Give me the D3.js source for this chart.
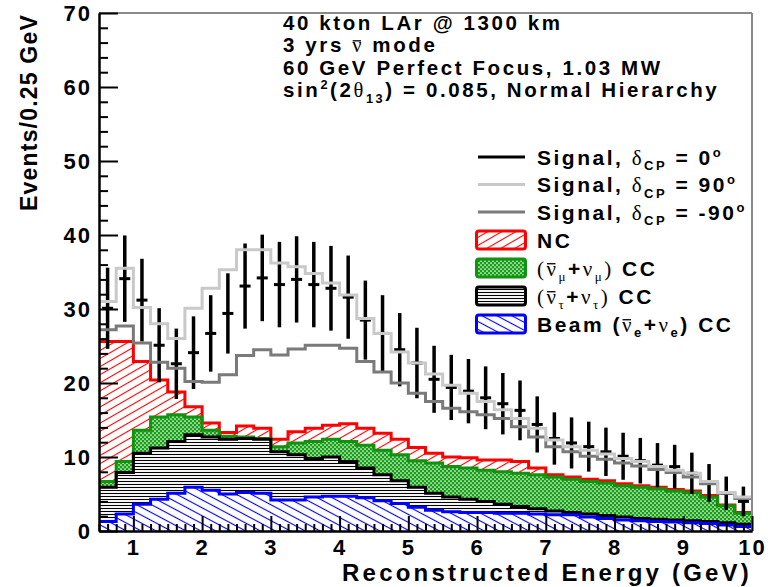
<!DOCTYPE html>
<html>
<head>
<meta charset="utf-8">
<script src="https://cdn.jsdelivr.net/npm/d3@7"></script>
<style>
  body { margin: 0; background: #fff; }
  svg { display: block; }
  text { font-family: "Liberation Sans", Arial, Helvetica, sans-serif; font-weight: bold; fill: #000; }
  .greek { font-family: "Liberation Serif", "Times New Roman", serif; font-weight: normal; }
</style>
</head>
<body>
<svg id="chart" width="774" height="587"></svg>
<script>
// Reconstructed-energy bins (lower edges, GeV), 0.25 GeV wide
const binLow = [0.5, 0.75, 1.0, 1.25, 1.5, 1.75, 2.0, 2.25, 2.5, 2.75,
                3.0, 3.25, 3.5, 3.75, 4.0, 4.25, 4.5, 4.75, 5.0, 5.25,
                5.5, 5.75, 6.0, 6.25, 6.5, 6.75, 7.0, 7.25, 7.5, 7.75,
                8.0, 8.25, 8.5, 8.75, 9.0, 9.25, 9.5, 9.75];
const binWidth = 0.25;

// Background components (events per bin), stacked bottom to top
const beamNue = [1.3, 2.3, 3.6, 4.3, 5.1, 5.9, 5.5, 5.0, 5.2, 5.1,
                 4.2, 4.2, 4.6, 4.7, 4.7, 4.5, 4.1, 3.7, 3.2, 2.8,
                 2.6, 2.5, 2.5, 2.4, 2.4, 2.3, 2.2, 2.2, 1.9, 1.7,
                 1.5, 1.4, 1.3, 1.2, 1.1, 1.0, 0.8, 0.6];
const nutauCC = [4.6, 5.6, 6.9, 6.9, 7.0, 7.1, 7.2, 7.4, 7.3, 7.3,
                 6.5, 6.1, 5.2, 5.3, 4.7, 4.0, 3.5, 3.1, 2.7, 2.3,
                 2.0, 1.8, 1.5, 1.2, 0.9, 0.7, 0.5, 0.3, 0.4, 0.4,
                 0.4, 0.3, 0.3, 0.3, 0.3, 0.3, 0.3, 0.3];
const numuCC  = [0.8, 1.5, 3.1, 4.2, 3.6, 2.4, 0.9, 0.4, 0.2, 0.1,
                 0.7, 1.6, 2.3, 2.4, 2.7, 3.1, 3.3, 3.5, 3.6, 4.1,
                 4.1, 4.2, 4.2, 4.4, 4.5, 4.6, 4.6, 4.5, 4.4, 4.4,
                 4.2, 4.2, 4.1, 3.9, 3.8, 3.3, 2.3, 1.5];
const ncBkg   = [18.9, 16.2, 9.3, 5.0, 3.1, 1.4, 1.0, 0.5, 1.5, 1.4,
                 1.0, 1.5, 1.8, 1.9, 2.4, 2.3, 2.3, 2.1, 1.8, 1.3,
                 1.3, 1.4, 1.4, 1.6, 1.6, 0.9, 0.3, 0.3, 0.3, 0.3,
                 0.3, 0.2, 0.2, 0.2, 0.2, 0.2, 0.1, 0.1];

// Signal + background totals for three values of delta_CP
const sigDcp0   = [30.1, 34.1, 31.2, 25.1, 22.6, 24.1, 26.7, 29.4, 33.1, 34.2,
                   33.3, 34.0, 33.3, 32.8, 31.6, 28.5, 26.7, 24.5, 22.7, 20.5,
                   19.4, 18.9, 18.0, 17.2, 16.3, 14.4, 12.5, 11.9, 11.4, 10.7,
                   10.1, 9.5, 8.9, 8.7, 7.8, 6.5, 5.1, 4.0];
const sigDcp90  = [31.0, 35.5, 30.2, 28.0, 26.0, 30.1, 32.8, 35.3, 38.0, 38.0,
                   36.2, 35.7, 34.8, 33.5, 31.9, 28.7, 26.7, 24.2, 22.7, 21.2,
                   19.7, 18.6, 17.5, 16.4, 15.2, 13.9, 12.3, 11.4, 10.9, 10.4,
                   9.8, 9.4, 8.7, 8.2, 7.8, 6.7, 5.2, 4.6];
const sigDcpM90 = [27.2, 27.7, 25.4, 22.8, 22.0, 20.2, 20.1, 21.1, 23.7, 24.5,
                   23.8, 24.6, 25.1, 25.1, 24.7, 22.9, 21.5, 20.0, 18.6, 17.5,
                   16.6, 16.1, 15.7, 15.2, 14.1, 12.7, 11.4, 10.7, 10.1, 9.7,
                   9.2, 8.8, 8.3, 7.9, 7.3, 6.4, 5.1, 4.4];

// Axis ticks
const xMajorTicks = [1, 2, 3, 4, 5, 6, 7, 8, 9, 10];
const yMajorTicks = [0, 10, 20, 30, 40, 50, 60, 70];

const svg = d3.select("#chart");
const plot = { left: 99, right: 752, top: 13, bottom: 531 };

const x = d3.scaleLinear().domain([0.5, 10]).range([plot.left, plot.right]);
const y = d3.scaleLinear().domain([0, 70]).range([plot.bottom, plot.top]);

// ---------- fill patterns ----------
const defs = svg.append("defs");

function linePattern(id, color, spacing, angle, width) {
  const p = defs.append("pattern").attr("id", id)
    .attr("patternUnits", "userSpaceOnUse")
    .attr("width", 20).attr("height", spacing)
    .attr("patternTransform", `rotate(${angle})`);
  p.append("line").attr("x1", 0).attr("x2", 20)
    .attr("y1", spacing / 2).attr("y2", spacing / 2)
    .attr("stroke", color).attr("stroke-width", width);
}
linePattern("hatchNC", "#ff0000", 7, -30, 1.1);
linePattern("hatchBeam", "#0000ff", 7, 28, 1.1);
linePattern("hatchTau", "#000000", 3, 0, 1.1);

const dots = defs.append("pattern").attr("id", "dotsNumu")
  .attr("patternUnits", "userSpaceOnUse").attr("width", 4).attr("height", 4);
dots.append("rect").attr("width", 4).attr("height", 4).attr("fill", "#16a016");
dots.append("circle").attr("cx", 1).attr("cy", 1).attr("r", 0.85).attr("fill", "#fff");
dots.append("circle").attr("cx", 3).attr("cy", 3).attr("r", 0.85).attr("fill", "#fff");

defs.append("clipPath").attr("id", "plotClip").append("rect")
  .attr("x", plot.left).attr("y", plot.top)
  .attr("width", plot.right - plot.left).attr("height", plot.bottom - plot.top);

// ---------- stacked backgrounds ----------
const rows = binLow.map((lo, i) => ({
  lo, beam: beamNue[i], tau: nutauCC[i], numu: numuCC[i], nc: ncBkg[i]
}));
const layerKeys = ["beam", "tau", "numu", "nc"];
const layerStyle = {
  beam: { fill: "url(#hatchBeam)", stroke: "#0000ff" },
  tau:  { fill: "url(#hatchTau)",  stroke: "#000000" },
  numu: { fill: "url(#dotsNumu)",  stroke: "#109410" },
  nc:   { fill: "url(#hatchNC)",   stroke: "#ff0000" }
};
const stacked = d3.stack().keys(layerKeys)(rows);

// step points: one per bin lower edge plus the closing upper edge
function stepPoints(vals) {
  const pts = binLow.map((lo, i) => [lo, vals[i]]);
  pts.push([binLow[binLow.length - 1] + binWidth, vals[vals.length - 1]]);
  return pts;
}

const g = svg.append("g").attr("clip-path", "url(#plotClip)");

const area = d3.area().curve(d3.curveStepAfter)
  .x(d => x(d[0])).y0(d => y(d[1])).y1(d => y(d[2]));
const stepLine = d3.line().curve(d3.curveStepAfter)
  .x(d => x(d[0])).y(d => y(d[1]));

stacked.forEach(layer => {
  const pts = layer.map((d, i) => [binLow[i], d[0], d[1]]);
  pts.push([binLow[binLow.length - 1] + binWidth, layer[layer.length - 1][0], layer[layer.length - 1][1]]);
  g.append("path").attr("d", area(pts))
    .attr("fill", layerStyle[layer.key].fill).attr("stroke", "none");
});

// outlines: tallest drawn first so the lower ones stay on top
stacked.slice().reverse().forEach(layer => {
  const tops = layer.map(d => d[1]);
  g.append("path").attr("d", stepLine(stepPoints(tops)))
    .attr("fill", "none").attr("stroke", layerStyle[layer.key].stroke)
    .attr("stroke-width", 3).attr("stroke-linejoin", "miter");
});

// ---------- delta_CP = 0 points with Poisson errors ----------
const pts0 = g.append("g");
sigDcp0.forEach((v, i) => {
  const cx = x(binLow[i] + binWidth / 2);
  const err = Math.sqrt(v);
  pts0.append("line").attr("x1", cx).attr("x2", cx)
    .attr("y1", y(v - err)).attr("y2", y(v + err))
    .attr("stroke", "#000").attr("stroke-width", 3.5);
  pts0.append("line").attr("x1", cx - 5.5).attr("x2", cx + 5.5)
    .attr("y1", y(v)).attr("y2", y(v))
    .attr("stroke", "#000").attr("stroke-width", 3);
});

// ---------- delta_CP = -90 and +90 curves ----------
g.append("path").attr("d", stepLine(stepPoints(sigDcpM90)))
  .attr("fill", "none").attr("stroke", "#7a7a7a").attr("stroke-width", 3);
g.append("path").attr("d", stepLine(stepPoints(sigDcp90)))
  .attr("fill", "none").attr("stroke", "#c9c9c9").attr("stroke-width", 3);

// ---------- frame and axes ----------
svg.append("line").attr("x1", plot.left).attr("x2", plot.right)
  .attr("y1", plot.top).attr("y2", plot.top)
  .attr("stroke", "#8a8a8a").attr("stroke-width", 2);
svg.append("line").attr("x1", plot.right).attr("x2", plot.right)
  .attr("y1", plot.top).attr("y2", plot.bottom)
  .attr("stroke", "#8a8a8a").attr("stroke-width", 2);

const yMinor = d3.range(0, 70.01, 2).filter(v => v % 10 !== 0);
const xMinor = d3.range(0.5, 10.01, 0.125).filter(v => Math.abs(v - Math.round(v)) > 1e-6);

const yAxisMinor = svg.append("g").attr("transform", `translate(${plot.left},0)`)
  .call(d3.axisLeft(y).tickValues(yMinor).tickSizeInner(-9).tickSizeOuter(0).tickFormat(""));
const yAxis = svg.append("g").attr("transform", `translate(${plot.left},0)`)
  .call(d3.axisLeft(y).tickValues(yMajorTicks).tickSizeInner(-19).tickSizeOuter(0).tickPadding(7));

const xAxisMinor = svg.append("g").attr("transform", `translate(0,${plot.bottom})`)
  .call(d3.axisBottom(x).tickValues(xMinor).tickSizeInner(-7).tickSizeOuter(0).tickFormat(""));
const xAxis = svg.append("g").attr("transform", `translate(0,${plot.bottom})`)
  .call(d3.axisBottom(x).tickValues(xMajorTicks).tickSizeInner(-15).tickSizeOuter(0).tickPadding(8));

[yAxisMinor, yAxis, xAxisMinor, xAxis].forEach(a => {
  a.selectAll(".domain").attr("stroke", "#000").attr("stroke-width", 2);
  a.selectAll(".tick line").attr("stroke", "#000").attr("stroke-width", 2);
});
yAxis.selectAll(".tick text").attr("font-size", 22).attr("font-family", null)
  .attr("letter-spacing", 2);
xAxis.selectAll(".tick text").attr("font-size", 22).attr("font-family", null)
  .attr("letter-spacing", 2);

// axis titles
svg.append("text").attr("x", plot.right).attr("y", 581)
  .attr("text-anchor", "end").attr("font-size", 24).attr("letter-spacing", 3.2)
  .text("Reconstructed Energy (GeV)");
svg.append("text").attr("transform", "translate(37,14) rotate(-90)")
  .attr("text-anchor", "end").attr("font-size", 23).attr("letter-spacing", 1.2)
  .text("Events/0.25 GeV");

// ---------- rich text helper (greek, sub/superscripts, antineutrino bar) ----------
function richText(parent, xPos, yPos, parts, size, spacing) {
  const t = parent.append("text").attr("x", xPos).attr("y", yPos)
    .attr("font-size", size).attr("letter-spacing", spacing);
  let shift = 0;
  let charIndex = 0;
  const barChars = [];
  parts.forEach(p => {
    const target = p.sub ? size * 0.28 : p.sup ? -size * 0.38 : 0;
    const ts = t.append("tspan").text(p.t).attr("dy", target - shift);
    shift = target;
    if (p.sub || p.sup) ts.attr("font-size", size * 0.62);
    if (p.greek) ts.attr("class", "greek");
    if (p.bar) barChars.push(charIndex);
    charIndex += p.t.length;
  });
  // bar over the antineutrino symbol, just above its x-height
  barChars.forEach(idx => {
    const ext = t.node().getExtentOfChar(idx);
    const pos = t.node().getStartPositionOfChar(idx);
    const glyphW = ext.width - spacing;
    parent.append("line")
      .attr("x1", ext.x + 0.5).attr("x2", ext.x + glyphW - 0.5)
      .attr("y1", pos.y - size * 0.56).attr("y2", pos.y - size * 0.56)
      .attr("stroke", "#000").attr("stroke-width", 1.3);
  });
  return t;
}

// ---------- run description ----------
const infoLines = [
  [{ t: "40 kton LAr @ 1300 km" }],
  [{ t: "3 yrs " }, { t: "ν", greek: true, bar: true }, { t: " mode" }],
  [{ t: "60 GeV Perfect Focus, 1.03 MW" }],
  [{ t: "sin" }, { t: "2", sup: true }, { t: "(2" }, { t: "θ", greek: true },
   { t: "13", sub: true }, { t: ") = 0.085, Normal Hierarchy" }]
];
infoLines.forEach((parts, i) => richText(svg, 283, 30 + i * 22.3, parts, 20.5, 2.6));

// ---------- legend ----------
const legendRows = [157, 184.5, 212, 240, 268, 296, 324];
const legendEntries = [
  { kind: "line", color: "#000000",
    parts: [{ t: "Signal, " }, { t: "δ", greek: true }, { t: "CP", sub: true }, { t: " = 0" }, { t: "o", sup: true }] },
  { kind: "line", color: "#c9c9c9",
    parts: [{ t: "Signal, " }, { t: "δ", greek: true }, { t: "CP", sub: true }, { t: " = 90" }, { t: "o", sup: true }] },
  { kind: "line", color: "#7a7a7a",
    parts: [{ t: "Signal, " }, { t: "δ", greek: true }, { t: "CP", sub: true }, { t: " = -90" }, { t: "o", sup: true }] },
  { kind: "box", key: "nc", parts: [{ t: "NC" }] },
  { kind: "box", key: "numu",
    parts: [{ t: "(", greek: true }, { t: "ν", greek: true, bar: true }, { t: "μ", greek: true, sub: true },
            { t: "+" }, { t: "ν", greek: true }, { t: "μ", greek: true, sub: true }, { t: ")", greek: true }, { t: " CC" }] },
  { kind: "box", key: "tau",
    parts: [{ t: "(", greek: true }, { t: "ν", greek: true, bar: true }, { t: "τ", greek: true, sub: true },
            { t: "+" }, { t: "ν", greek: true }, { t: "τ", greek: true, sub: true }, { t: ")", greek: true }, { t: " CC" }] },
  { kind: "box", key: "beam",
    parts: [{ t: "Beam (" }, { t: "ν", greek: true, bar: true }, { t: "e", sub: true },
            { t: "+" }, { t: "ν", greek: true }, { t: "e", sub: true }, { t: ")" }, { t: " CC" }] }
];
const legend = svg.append("g");
legendEntries.forEach((e, i) => {
  const cy = legendRows[i];
  if (e.kind === "line") {
    legend.append("line").attr("x1", 478).attr("x2", 525).attr("y1", cy).attr("y2", cy)
      .attr("stroke", e.color).attr("stroke-width", 3);
  } else {
    legend.append("rect").attr("x", 476.5).attr("y", cy - 9).attr("width", 49).attr("height", 18)
      .attr("rx", 2.5).attr("fill", layerStyle[e.key].fill)
      .attr("stroke", layerStyle[e.key].stroke).attr("stroke-width", 3);
  }
  richText(legend, 537, cy + 7.5, e.parts, 21, 2.5);
});
</script>
</body>
</html>
